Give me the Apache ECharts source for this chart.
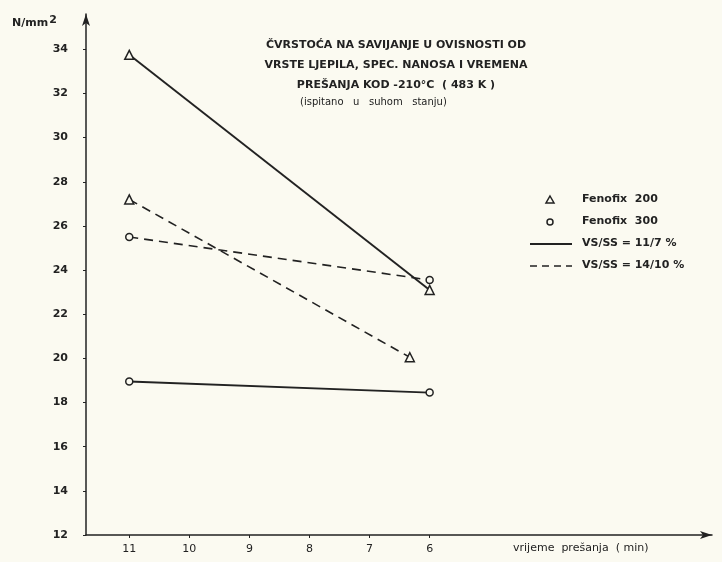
<!DOCTYPE html>
<html><head><meta charset="utf-8">
<script src="https://cdn.jsdelivr.net/npm/echarts@6/dist/echarts.min.js"></script>
<style>html,body{margin:0;padding:0;background:#fbfaf1;}#c{width:722px;height:562px;}</style>
</head><body><div id="c"></div>
<script>
// ---- data ----
const xTickLabels = [11, 10, 9, 8, 7, 6];
const yTickLabels = [12, 14, 16, 18, 20, 22, 24, 26, 28, 30, 32, 34];
const f200_solid_x = [11, 6];      const f200_solid_y = [33.75, 23.1];
const f200_dashed_x = [11, 6.33];  const f200_dashed_y = [27.2, 20.05];
const f300_dashed_x = [11, 6];     const f300_dashed_y = [25.5, 23.55];
const f300_solid_x = [11, 6];      const f300_solid_y = [18.95, 18.45];
const titleLines = ['ČVRSTOĆA NA SAVIJANJE U OVISNOSTI OD', 'VRSTE LJEPILA, SPEC. NANOSA I VREMENA', 'PREŠANJA KOD -210°C  ( 483 K )'];
const subTitle = '(ispitano   u   suhom   stanju)';
const legendMarkers = ['Fenofix  200', 'Fenofix  300'];
const legendLines = ['VS/SS = 11/7 %', 'VS/SS = 14/10 %'];
const yName = 'N/mm';
const xName = 'vrijeme  prešanja  ( min)';

const ink = '#222';
const bg = '#fbfaf1';
const font = 'DejaVu Sans';
const pairs = (xs, ys) => xs.map((x, i) => [x, ys[i]]);
function mkSeries(name, xs, ys, sym, dashed) {
  return {
    name, type: 'line', data: pairs(xs, ys),
    symbol: sym, symbolSize: sym === 'triangle' ? 9 : 7,
    lineStyle: { color: ink, width: dashed ? 1.6 : 1.9, type: dashed ? [9, 6] : 'solid' },
    itemStyle: { color: bg, borderColor: ink, borderWidth: 1.5 },
    showAllSymbol: true, silent: true, animation: false
  };
}
const chart = echarts.init(document.getElementById('c'), null, { renderer: 'canvas' });
chart.setOption({
  backgroundColor: bg,
  animation: false,
  grid: { left: 86, right: 10, top: 14, bottom: 27, containLabel: false },
  xAxis: {
    type: 'value', inverse: true, min: 1.3, max: 11.72,
    axisLine: { onZero: false, symbol: ['none', 'arrow'], symbolSize: [6, 12], lineStyle: { color: ink, width: 1.5 } },
    axisTick: { show: true, customValues: xTickLabels, length: 3, lineStyle: { color: ink } },
    axisLabel: { customValues: xTickLabels, color: ink, fontFamily: font, fontSize: 11, margin: 9 },
    splitLine: { show: false }
  },
  yAxis: {
    type: 'value', min: 12, max: 35.6,
    axisLine: { show: true, onZero: false, symbol: ['none', 'arrow'], symbolSize: [6, 12], lineStyle: { color: ink, width: 1.5 } },
    axisTick: { show: true, customValues: yTickLabels, length: 3, lineStyle: { color: ink } },
    axisLabel: { customValues: yTickLabels, color: ink, fontFamily: font, fontSize: 11, fontWeight: 'bold', margin: 18 },
    splitLine: { show: false }
  },
  series: [
    mkSeries('Fenofix 200, ' + legendLines[0], f200_solid_x, f200_solid_y, 'triangle', false),
    mkSeries('Fenofix 200, ' + legendLines[1], f200_dashed_x, f200_dashed_y, 'triangle', true),
    mkSeries('Fenofix 300, ' + legendLines[1], f300_dashed_x, f300_dashed_y, 'circle', true),
    mkSeries('Fenofix 300, ' + legendLines[0], f300_solid_x, f300_solid_y, 'circle', false)
  ],
  graphic: [
    { type: 'text', x: 12, y: 15, style: { text: yName + '{s|2}', fill: ink, font: 'bold 11px ' + font, rich: { s: { fontSize: 11, fontWeight: 'bold', fontFamily: font, verticalAlign: 'top', padding: [0, 0, 5, 1] } } } },
    { type: 'text', x: 396, y: 35, style: { text: titleLines.join('\n'), fill: ink, font: 'bold 11px ' + font, align: 'center', lineHeight: 20 } },
    { type: 'text', x: 300, y: 97, style: { text: subTitle, fill: ink, font: '10px ' + font } },
    { type: 'text', x: 513, y: 543, style: { text: xName, fill: ink, font: '11px ' + font } },
    // legend
    { type: 'polygon', shape: { points: [[550, 196], [554, 203], [546, 203]] }, style: { fill: bg, stroke: ink, lineWidth: 1.5 } },
    { type: 'circle', shape: { cx: 550, cy: 222, r: 3 }, style: { fill: bg, stroke: ink, lineWidth: 1.5 } },
    { type: 'line', shape: { x1: 530, y1: 244, x2: 572, y2: 244 }, style: { stroke: ink, lineWidth: 1.8 } },
    { type: 'line', shape: { x1: 530, y1: 266, x2: 572, y2: 266 }, style: { stroke: ink, lineWidth: 1.6, lineDash: [7, 5] } },
    { type: 'text', x: 582, y: 194, style: { text: legendMarkers[0], fill: ink, font: 'bold 11px ' + font } },
    { type: 'text', x: 582, y: 216, style: { text: legendMarkers[1], fill: ink, font: 'bold 11px ' + font } },
    { type: 'text', x: 582, y: 238, style: { text: legendLines[0], fill: ink, font: 'bold 11px ' + font } },
    { type: 'text', x: 582, y: 260, style: { text: legendLines[1], fill: ink, font: 'bold 11px ' + font } }
  ]
});
</script></body></html>
